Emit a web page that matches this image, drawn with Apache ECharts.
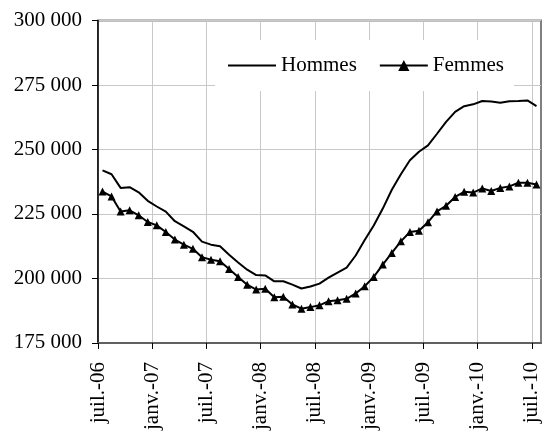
<!DOCTYPE html>
<html>
<head>
<meta charset="utf-8">
<script src="https://cdn.jsdelivr.net/npm/echarts@6/dist/echarts.min.js"></script>
<style>
html,body{margin:0;padding:0;background:#fff;}
#chart{width:547px;height:433px;}
</style>
</head>
<body>
<div id="chart"></div>
<script>
// Monthly categories (juil.-06 .. juil.-10)
const months = [
  'juil.-06','août-06','sept.-06','oct.-06','nov.-06','déc.-06',
  'janv.-07','févr.-07','mars-07','avr.-07','mai-07','juin-07',
  'juil.-07','août-07','sept.-07','oct.-07','nov.-07','déc.-07',
  'janv.-08','févr.-08','mars-08','avr.-08','mai-08','juin-08',
  'juil.-08','août-08','sept.-08','oct.-08','nov.-08','déc.-08',
  'janv.-09','févr.-09','mars-09','avr.-09','mai-09','juin-09',
  'juil.-09','août-09','sept.-09','oct.-09','nov.-09','déc.-09',
  'janv.-10','févr.-10','mars-10','avr.-10','mai-10','juin-10',
  'juil.-10'
];
// Values in thousands
const hommes = [241.9,240.4,235.1,235.4,233.4,230.1,227.9,225.9,222.2,220.2,
  218.1,214.3,213.1,212.5,209.2,206.2,203.4,201.3,201.2,198.9,
  198.9,197.6,196.1,196.9,198.0,200.3,202.3,204.2,208.9,214.9,
  220.5,227.1,234.4,240.4,245.8,249.1,251.6,256.1,260.7,264.6,
  266.8,267.5,268.8,268.6,268.1,268.7,268.8,269.0,266.8];
const femmes = [233.7,231.8,226.0,226.4,224.5,221.9,220.6,218.0,215.1,213.1,
  211.5,208.2,207.3,206.7,203.7,200.6,197.6,195.7,196.0,192.7,
  192.9,189.9,188.3,188.9,189.6,191.2,191.6,192.1,194.2,197.0,
  200.6,205.4,209.9,214.4,218.0,218.5,221.8,226.0,228.2,231.6,
  233.6,233.3,234.9,233.9,235.1,235.7,237.1,237.1,236.4];
const xTickLabels = ['juil.-06','janv.-07','juil.-07','janv.-08','juil.-08','janv.-09','juil.-09','janv.-10','juil.-10'];
const yTicks = [175, 200, 225, 250, 275, 300];

const FONT = 'Liberation Serif';
const tickStep = 6;
const xTickValues = xTickLabels.map((_, i) => i * tickStep);

const toPts = arr => arr.map((v, i) => [i + 0.5, v, months[i]]);

const chart = echarts.init(document.getElementById('chart'), null, {renderer: 'canvas'});
chart.setOption({
  animation: false,
  backgroundColor: '#fff',
  textStyle: {fontFamily: FONT, color: '#000'},
  grid: {
    left: 98, right: 6, top: 20.5, bottom: 89.5,
    show: true, borderColor: '#808080', borderWidth: 2, backgroundColor: 'transparent'
  },
  legend: {
    left: 215, top: 40,
    padding: [15, 10, 15, 12],
    backgroundColor: '#fff',
    itemWidth: 48, itemHeight: 14, itemGap: 22,
    textStyle: {fontFamily: FONT, fontSize: 21, color: '#000'},
    data: [
      {name: 'Hommes', itemStyle: {opacity: 0}},
      {name: 'Femmes'}
    ]
  },
  xAxis: {
    type: 'value', min: 0, max: months.length, interval: tickStep,
    axisLine: {show: true, lineStyle: {color: '#606060', width: 2}},
    axisTick: {show: true, length: 6, lineStyle: {color: '#000', width: 1}, customValues: xTickValues},
    axisLabel: {
      customValues: xTickValues,
      rotate: 90, margin: 19, fontFamily: FONT, fontSize: 21, color: '#000',
      padding: [11, 0, 0, 0],
      formatter: v => (v % tickStep === 0 && xTickLabels[v / tickStep]) ? xTickLabels[v / tickStep] : ''
    },
    splitLine: {show: true, lineStyle: {color: '#c8c8c8', width: 1}}
  },
  yAxis: {
    type: 'value', min: yTicks[0], max: yTicks[yTicks.length - 1], interval: 25,
    axisLine: {show: true, lineStyle: {color: '#000', width: 1.5}},
    axisTick: {show: true, length: 6, lineStyle: {color: '#000', width: 1}},
    axisLabel: {
      margin: 16, fontFamily: FONT, fontSize: 21, color: '#000',
      formatter: v => v + ' 000'
    },
    splitLine: {show: true, lineStyle: {color: '#c8c8c8', width: 1}}
  },
  series: [
    {
      name: 'Hommes', type: 'line', data: toPts(hommes),
      symbol: 'none', showSymbol: false,
      lineStyle: {color: '#000', width: 2}, itemStyle: {color: '#000'}, z: 3
    },
    {
      name: 'Femmes', type: 'line', data: toPts(femmes),
      symbol: 'triangle', symbolSize: 8, showSymbol: true,
      lineStyle: {color: '#000', width: 2}, itemStyle: {color: '#000'}, z: 3
    }
  ]
});
</script>
</body>
</html>
